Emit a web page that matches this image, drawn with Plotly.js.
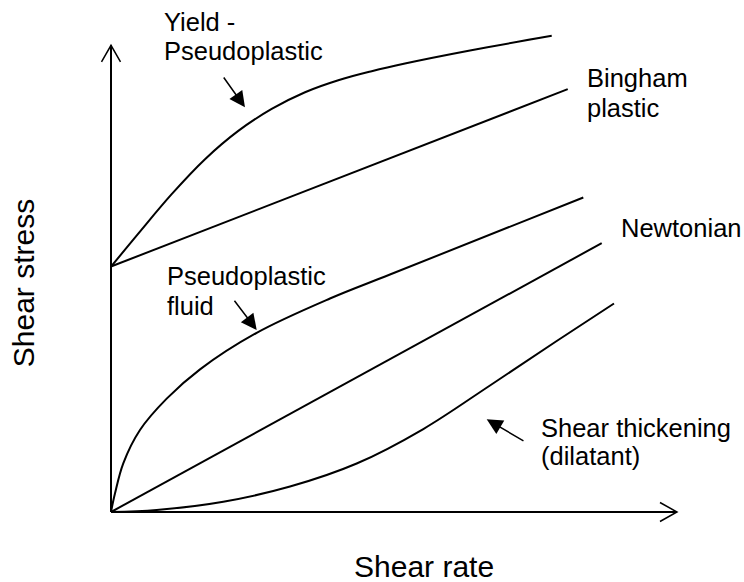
<!DOCTYPE html>
<html>
<head>
<meta charset="utf-8">
<script src="https://cdn.plot.ly/plotly-3.0.1.min.js"></script>
<style>html,body{margin:0;padding:0;background:#fff;}#chart{width:744px;height:582px;}</style>
</head>
<body>
<div id="chart"></div>
<script>
// Shear rate (x) vs shear stress (y), arbitrary units
const newtonianX = [0, 8.67];
const newtonianY = [0, 5.76];

const binghamX = [0, 8.07];
const binghamY = [5.26, 9.06];

const yieldPseudoX = [0, 0.482, 1.072, 1.661, 2.249, 2.839, 3.428, 4.016, 4.606, 5.194, 6.343, 7.787];
const yieldPseudoY = [5.256, 5.965, 6.810, 7.560, 8.166, 8.637, 8.995, 9.252, 9.445, 9.610, 9.889, 10.204];

const pseudoX = [0, 0.071, 0.217, 0.512, 0.984, 1.573, 2.574, 3.869, 4.929, 8.345];
const pseudoY = [0, 0.400, 1.043, 1.757, 2.429, 3.057, 3.840, 4.575, 5.089, 6.739];

const dilatantX = [0, 0.807, 1.984, 3.163, 4.341, 5.518, 6.696, 7.875, 8.887];
const dilatantY = [0, 0.043, 0.221, 0.546, 1.039, 1.778, 2.711, 3.664, 4.468];

const axisMax = 10;
const xTitle = "Shear rate";
const yTitle = "Shear stress";

const FONT = "Liberation Sans, Arial, sans-serif";
const lineStyle = {color: "#000", width: 2};

function curve(x, y, name, spline) {
  return {x: x, y: y, name: name, type: "scatter", mode: "lines",
    line: Object.assign({}, lineStyle, spline ? {shape: "spline", smoothing: 1} : {}),
    hoverinfo: "skip", showlegend: false};
}

const traces = [
  curve(newtonianX, newtonianY, "Newtonian", false),
  curve(binghamX, binghamY, "Bingham plastic", false),
  curve(yieldPseudoX, yieldPseudoY, "Yield - Pseudoplastic", true),
  curve(pseudoX, pseudoY, "Pseudoplastic fluid", true),
  curve(dilatantX, dilatantY, "Shear thickening (dilatant)", true)
];

function label(text, x, y) {
  return {text: text, x: x, y: y, xref: "x", yref: "y", xanchor: "left", yanchor: "middle",
    showarrow: false, font: {family: FONT, size: 25.5, color: "#000"}};
}
function pointer(x, y, ax, ay) {
  return {text: "", x: x, y: y, ax: ax, ay: ay, xref: "x", yref: "y", axref: "x", ayref: "y",
    showarrow: true, arrowhead: 2, arrowsize: 2.1, arrowwidth: 1.5, arrowcolor: "#000", standoff: 0};
}

const annotations = [
  label("Yield -", 0.901, 10.50),
  label("Pseudoplastic", 0.901, 9.875),
  label("Bingham", 8.38, 9.30),
  label("plastic", 8.38, 8.66),
  label("Newtonian", 8.97, 6.088),
  label("Pseudoplastic", 0.959, 5.053),
  label("fluid", 0.959, 4.411),
  label("Shear thickening", 7.557, 1.803),
  label("(dilatant)", 7.557, 1.196),
  pointer(2.367, 8.672, 1.973, 9.343),
  pointer(2.574, 3.900, 2.161, 4.558),
  pointer(6.638, 1.986, 7.314, 1.506),
  {text: xTitle, xref: "paper", yref: "paper", x: 0.548, y: -0.0585, xanchor: "center", yanchor: "middle",
    showarrow: false, font: {family: FONT, size: 30, color: "#000"}},
  {text: yTitle, xref: "paper", yref: "paper", x: -0.0966, y: 0.4705, xanchor: "center", yanchor: "middle",
    textangle: -90, showarrow: false, font: {family: FONT, size: 30, color: "#000"}}
];

const axLine = {color: "#000", width: 2};
const shapes = [
  {type: "line", xref: "x", yref: "y", x0: 0, y0: 0, x1: axisMax, y1: 0, line: axLine},
  {type: "line", xref: "x", yref: "y", x0: 0, y0: 0, x1: 0, y1: axisMax, line: axLine},
  {type: "path", xref: "x", yref: "y", xsizemode: "pixel", ysizemode: "pixel", xanchor: axisMax, yanchor: 0,
    path: "M-17,9.5 L0,0 L-17,-9.5", line: {color: "#000", width: 1.5}},
  {type: "path", xref: "x", yref: "y", xsizemode: "pixel", ysizemode: "pixel", xanchor: 0, yanchor: axisMax,
    path: "M-9.5,-16.5 L0,0 L9.5,-16.5", line: {color: "#000", width: 1.5}}
];

const hiddenAxis = {showgrid: false, zeroline: false, showline: false, showticklabels: false, ticks: "", fixedrange: true};

const layout = {
  width: 744, height: 582,
  margin: {l: 83, r: 39, t: 0, b: 47, pad: 0},
  paper_bgcolor: "#fff", plot_bgcolor: "#fff",
  xaxis: Object.assign({range: [-0.4947, 10.495]}, hiddenAxis),
  yaxis: Object.assign({range: [-0.4928, 10.9707]}, hiddenAxis),
  showlegend: false,
  annotations: annotations,
  shapes: shapes,
  font: {family: FONT}
};

Plotly.newPlot("chart", traces, layout, {displayModeBar: false, staticPlot: true});
</script>
</body>
</html>
